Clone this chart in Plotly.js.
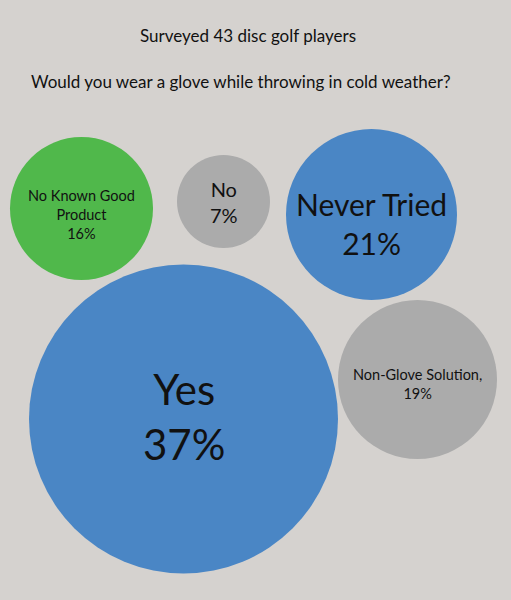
<!DOCTYPE html>
<html>
<head>
<meta charset="utf-8">
<script src="https://cdn.plot.ly/plotly-3.0.1.min.js"></script>
<style>html,body{margin:0;padding:0;background:#d5d2cf;}#chart{width:511px;height:600px;}</style>
</head>
<body>
<div id="chart"></div>
<script>
// Data
const categories = ["No Known Good<br>Product", "No", "Never Tried", "Yes", "Non-Glove Solution,"];
const percents = [16, 7, 21, 37, 19];
const respondents = 43;
const chartTitle = "Surveyed 43 disc golf players";
const question = "Would you wear a glove while throwing in cold weather?";

// Bubble layout (styling / placement)
const bubbleX = [81.5, 223.5, 371.5, 183.5, 417.5];
const bubbleY = [208.5, 201.5, 214.5, 419, 379.5];
const bubbleDiam = [143, 93, 171, 309, 159];
const bubbleColors = ["#50b84b", "#ababab", "#4a86c5", "#4a86c5", "#ababab"];
const textSizes = [14.5, 20, 30, 42, 14.5];
const textYOffset = [6, 0, 9, -3, 4];

const fontFam = "Lato, 'Open Sans', sans-serif";

const trace = {
  type: "scatter",
  mode: "markers",
  x: bubbleX,
  y: bubbleY,
  marker: {size: bubbleDiam, sizemode: "diameter", color: bubbleColors, opacity: 1, line: {width: 0}},
  hoverinfo: "skip",
  showlegend: false
};

const annotations = categories.map((c, i) => ({
  x: bubbleX[i], y: bubbleY[i] + textYOffset[i], xref: "x", yref: "y",
  text: c + "<br>" + percents[i] + "%",
  showarrow: false,
  font: {family: fontFam, size: textSizes[i], color: "#111"},
  align: "center", xanchor: "center", yanchor: "middle"
}));
annotations.push({x: 248, y: 35, xref: "x", yref: "y", text: chartTitle, showarrow: false,
  font: {family: fontFam, size: 17, color: "#111"}, xanchor: "center", yanchor: "middle"});
annotations.push({x: 241, y: 81, xref: "x", yref: "y", text: question, showarrow: false,
  font: {family: fontFam, size: 17, color: "#111"}, xanchor: "center", yanchor: "middle"});

const layout = {
  width: 511, height: 600,
  margin: {l: 0, r: 0, t: 0, b: 0},
  paper_bgcolor: "#d5d2cf",
  plot_bgcolor: "#d5d2cf",
  xaxis: {range: [0, 511], visible: false, fixedrange: true},
  yaxis: {range: [600, 0], visible: false, fixedrange: true},
  annotations: annotations,
  showlegend: false
};

Plotly.newPlot("chart", [trace], layout, {displayModeBar: false, staticPlot: true});
</script>
</body>
</html>
